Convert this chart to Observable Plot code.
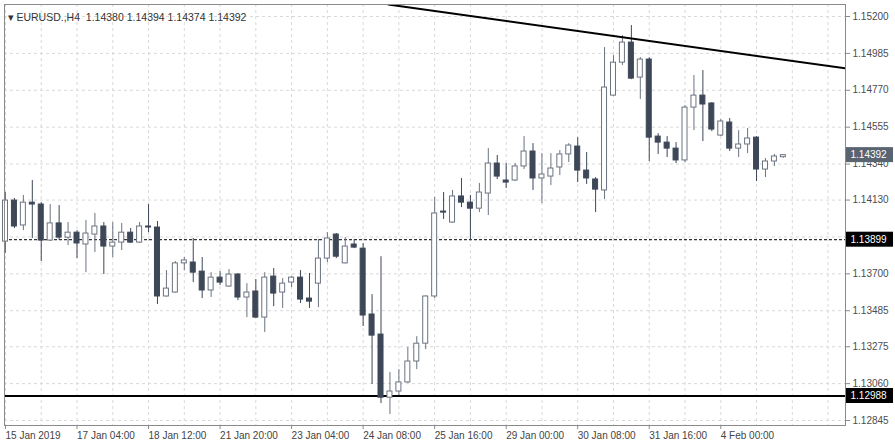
<!DOCTYPE html>
<html><head><meta charset="utf-8">
<script src="https://cdn.jsdelivr.net/npm/d3@7"></script>
<script src="https://cdn.jsdelivr.net/npm/@observablehq/plot@0.6"></script>
<style>body{margin:0;background:#fff;} svg{display:block}</style>
</head><body><div id="chart"></div>
<script>
const symbol = "EURUSD.,H4";
const opens = [1.13888,1.14127,1.13982,1.14115,1.14104,1.13894,1.13994,1.13911,1.13940,1.13871,1.13929,1.13976,1.13859,1.13882,1.13940,1.13882,1.13976,1.13970,1.13568,1.13591,1.13761,1.13766,1.13713,1.13603,1.13678,1.13626,1.13696,1.13562,1.13597,1.13445,1.13684,1.13591,1.13649,1.13678,1.13556,1.13643,1.13789,1.13929,1.13761,1.13871,1.13847,1.13463,1.13346,1.12978,1.13014,1.13067,1.13189,1.13293,1.13568,1.14063,1.13999,1.14151,1.14115,1.14080,1.14168,1.14343,1.14244,1.14244,1.14326,1.14413,1.14256,1.14267,1.14320,1.14396,1.14442,1.14302,1.14250,1.14186,1.14739,1.14931,1.15048,1.14844,1.14949,1.14500,1.14465,1.14430,1.14361,1.14669,1.14739,1.14693,1.14506,1.14582,1.14430,1.14454,1.14494,1.14308,1.14355,1.14380];
const highs = [1.14174,1.14139,1.14157,1.14244,1.14115,1.14104,1.14098,1.13999,1.13952,1.14011,1.14052,1.13999,1.13999,1.13994,1.13964,1.13999,1.14104,1.14005,1.13719,1.13772,1.13795,1.13906,1.13795,1.13707,1.13713,1.13725,1.13702,1.13643,1.13667,1.13707,1.13731,1.13672,1.13684,1.13719,1.13702,1.13900,1.13940,1.13935,1.13911,1.13900,1.13877,1.13579,1.13800,1.13125,1.13142,1.13271,1.13334,1.13572,1.14145,1.14174,1.14186,1.14256,1.14157,1.14227,1.14430,1.14390,1.14343,1.14343,1.14500,1.14459,1.14401,1.14401,1.14419,1.14459,1.14494,1.14407,1.14261,1.15019,1.14972,1.15089,1.15147,1.14961,1.14960,1.14517,1.14500,1.14465,1.14681,1.14856,1.14885,1.14698,1.14599,1.14605,1.14535,1.14547,1.14500,1.14372,1.14396,1.14394];
const lows = [1.13819,1.13964,1.13952,1.13906,1.13772,1.13890,1.13894,1.13865,1.13789,1.13707,1.13824,1.13696,1.13795,1.13836,1.13877,1.13877,1.13940,1.13521,1.13565,1.13588,1.13719,1.13649,1.13556,1.13562,1.13632,1.13622,1.13544,1.13445,1.13440,1.13358,1.13509,1.13498,1.13620,1.13527,1.13498,1.13503,1.13766,1.13789,1.13758,1.13847,1.13393,1.13055,1.12944,1.12880,1.12990,1.13061,1.13142,1.13258,1.13556,1.14017,1.13994,1.14086,1.13894,1.14057,1.14040,1.14250,1.14197,1.14238,1.14308,1.14186,1.14110,1.14215,1.14273,1.14349,1.14232,1.14221,1.14057,1.14133,1.14735,1.14914,1.14832,1.14716,1.14355,1.14396,1.14378,1.14343,1.14349,1.14535,1.14471,1.14529,1.14500,1.14413,1.14378,1.14401,1.14238,1.14261,1.14326,1.14374];
const closes = [1.14127,1.13976,1.14115,1.14104,1.13894,1.13994,1.13911,1.13940,1.13877,1.13935,1.13976,1.13859,1.13882,1.13940,1.13882,1.13976,1.13970,1.13568,1.13614,1.13761,1.13778,1.13707,1.13603,1.13678,1.13649,1.13696,1.13562,1.13591,1.13445,1.13678,1.13585,1.13643,1.13678,1.13550,1.13538,1.13789,1.13906,1.13800,1.13859,1.13853,1.13457,1.13340,1.12978,1.13014,1.13067,1.13189,1.13293,1.13568,1.14052,1.14057,1.14151,1.14115,1.14080,1.14174,1.14343,1.14267,1.14232,1.14326,1.14413,1.14256,1.14279,1.14314,1.14396,1.14448,1.14302,1.14256,1.14191,1.14786,1.14931,1.15048,1.14838,1.14949,1.14494,1.14465,1.14430,1.14361,1.14669,1.14739,1.14687,1.14541,1.14588,1.14430,1.14454,1.14489,1.14308,1.14355,1.14384,1.14392];
const dateTicks = [0, 8, 16, 24, 32, 40, 48, 56, 64, 72, 80];
const dateLabels = ["15 Jan 2019", "17 Jan 04:00", "18 Jan 12:00", "21 Jan 20:00", "23 Jan 04:00", "24 Jan 08:00", "25 Jan 16:00", "29 Jan 00:00", "30 Jan 08:00", "31 Jan 16:00", "4 Feb 00:00"];
const priceTicks = [1.15200, 1.14985, 1.14770, 1.14555, 1.14340, 1.14130, 1.13700, 1.13485, 1.13275, 1.13060, 1.12845];
const gridPrices = [1.15200, 1.14985, 1.14770, 1.14555, 1.14340, 1.14130, 1.13915, 1.13700, 1.13485, 1.13275, 1.13060, 1.12845];
const supportLevel = [1.13899];
const floorLevel = [1.12988];
const trendIndex = [42.8, 94];
const trendPrice = [1.15270, 1.14897];

const n = closes.length;
const candles = d3.range(n).map(i => ({i, open: opens[i], high: highs[i], low: lows[i], close: closes[i], up: closes[i] >= opens[i]}));
const last = candles[n - 1];
const levels = [
  {value: last.close, bg: "#5a6370"},
  {value: supportLevel[0], bg: "#000"},
  {value: floorLevel[0], bg: "#000"}
];
const trend = trendIndex.map((x, k) => ({x, y: trendPrice[k]}));
const labelMap = new Map(dateTicks.map((t, k) => [t, dateLabels[k]]));
const fmt = d => d.toFixed(5);
const dark = "#3d4757", edge = "#6b7381";
const title = `\u25BE ${symbol}  ${fmt(last.open)} ${fmt(last.high)} ${fmt(last.low)} ${fmt(last.close)}`;

const chart = Plot.plot({
  width: 895, height: 446,
  marginLeft: 4, marginRight: 50, marginTop: 4, marginBottom: 21,
  x: {domain: [-0.11, 93.95], axis: null},
  y: {domain: [1.12816, 1.15270], axis: null},
  style: {fontFamily: "'Liberation Sans', Arial, sans-serif", fontSize: "10px", background: "#fff", overflow: "visible"},
  marks: [
    Plot.gridX(d3.range(0, 94, 4), {stroke: "#d9d9d9", strokeOpacity: 1, strokeDasharray: "3,3"}),
    Plot.gridY(gridPrices, {stroke: "#d9d9d9", strokeOpacity: 1, strokeDasharray: "3,3"}),
    Plot.ruleY(supportLevel, {stroke: "#000", strokeDasharray: "3,2"}),
    Plot.ruleY(floorLevel, {stroke: "#000", strokeWidth: 2}),
    Plot.ruleX(candles, {x: "i", y1: "low", y2: "high", stroke: d => d.up ? edge : dark}),
    Plot.rect(candles, {x1: d => d.i - 0.28, x2: d => d.i + 0.28, y1: "open", y2: "close", fill: d => d.up ? "#fff" : dark, stroke: d => d.up ? edge : dark}),
    Plot.line(trend, {x: "x", y: "y", stroke: "#000", strokeWidth: 2, clip: true}),
    Plot.frame({stroke: "#8a8a8a"}),
    Plot.axisY(priceTicks, {anchor: "right", tickSize: 4, tickPadding: 3, tickFormat: fmt, fill: "#4d4d4d", stroke: "#8a8a8a"}),
    Plot.axisX(dateTicks, {anchor: "bottom", tickSize: 4, tickPadding: 2, tickFormat: d => labelMap.get(d), textAnchor: "start", dx: 0, fill: "#444", stroke: "#8a8a8a"}),
    Plot.text(levels, {
      y: "value", text: d => fmt(d.value), frameAnchor: "right", textAnchor: "start", dx: 5,
      fill: "#fff", fontSize: 10,
      render(index, scales, values, dimensions, context, next) {
        const g = next(index, scales, values, dimensions, context);
        const ns = "http://www.w3.org/2000/svg";
        const wrap = document.createElementNS(ns, "g");
        const x0 = dimensions.width - dimensions.marginRight;
        for (const i of index) {
          const r = document.createElementNS(ns, "rect");
          r.setAttribute("x", x0 + 1);
          r.setAttribute("y", values.y[i] - 7.5);
          r.setAttribute("width", 47);
          r.setAttribute("height", 15);
          r.setAttribute("fill", levels[i].bg);
          wrap.appendChild(r);
        }
        wrap.appendChild(g);
        return wrap;
      }
    }),
    Plot.text([title], {frameAnchor: "top-left", dx: 3, dy: 9, textAnchor: "start", fill: "#333", fontSize: 10.5})
  ]
});
document.getElementById("chart").appendChild(chart);
</script>
</body></html>
